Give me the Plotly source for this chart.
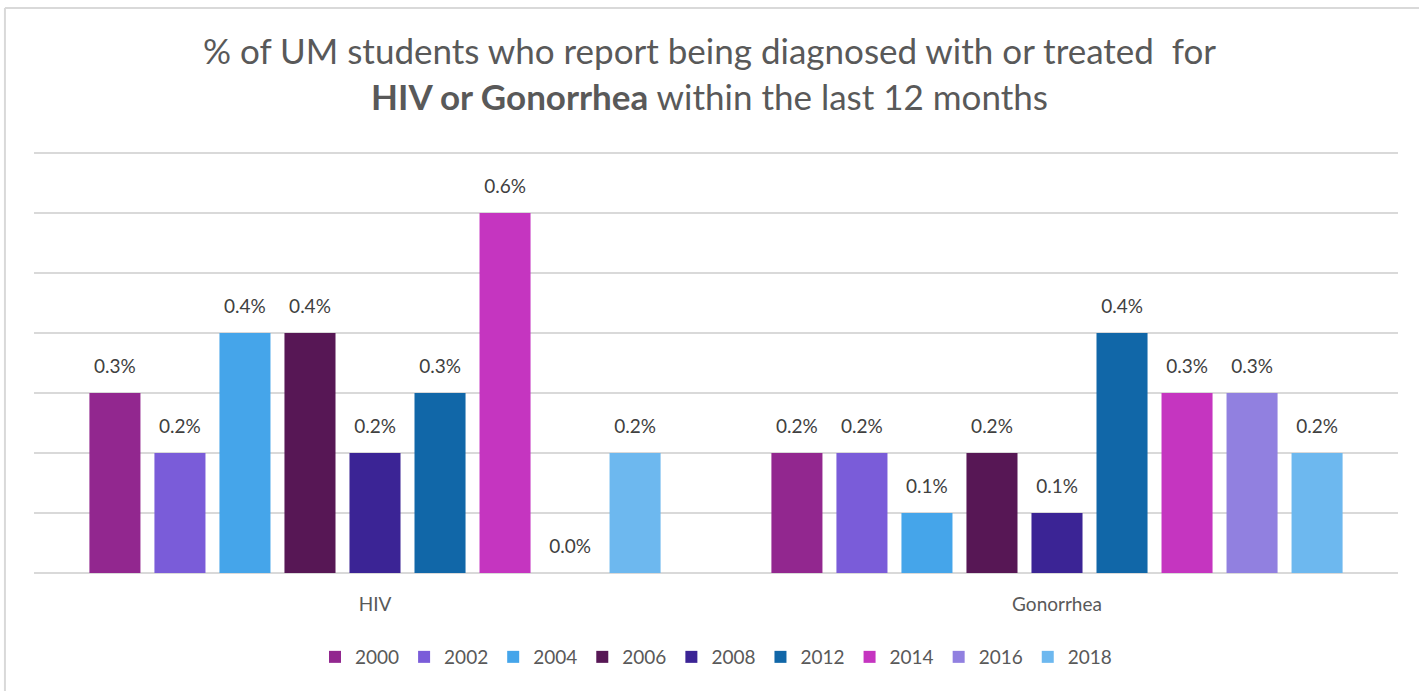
import plotly.graph_objects as go

categories = ["HIV", "Gonorrhea"]
years = ["2000", "2002", "2004", "2006", "2008", "2012", "2014", "2016", "2018"]
hiv = [0.3, 0.2, 0.4, 0.4, 0.2, 0.3, 0.6, 0.0, 0.2]
gonorrhea = [0.2, 0.2, 0.1, 0.2, 0.1, 0.4, 0.3, 0.3, 0.2]
colors = ["#92278F", "#7A5CD9", "#45A5EA", "#571755", "#3B2495",
          "#1167A8", "#C535C0", "#9180E0", "#6DB8EF"]

FONT = "Lato"
YMAX = 0.705
LABEL_LIFT = 0.022  # lift of the value labels above the bar tops (axis units)

fig = go.Figure()
for i, y in enumerate(years):
    vals = [hiv[i], gonorrhea[i]]
    fig.add_trace(go.Bar(
        name=y, x=categories, y=vals,
        marker=dict(color=colors[i], line=dict(width=0)),
        hoverinfo="name+y",
    ))
# value labels: transparent copies on an overlaying axis shifted slightly
for i, y in enumerate(years):
    vals = [hiv[i], gonorrhea[i]]
    fig.add_trace(go.Bar(
        name=y, x=categories, y=vals, yaxis="y2",
        marker=dict(color="rgba(0,0,0,0)", line=dict(width=0)),
        text=[f"{v:.1f}%" for v in vals],
        textposition="outside",
        textfont=dict(family=FONT, size=19, color="#404040"),
        cliponaxis=False, showlegend=False, hoverinfo="skip",
    ))

fig.update_layout(
    width=1419, height=691,
    margin=dict(l=34, r=21, t=150, b=118, autoexpand=False),
    paper_bgcolor="white", plot_bgcolor="white",
    barmode="group", bargap=0.142, bargroupgap=0.215,
    title=dict(
        text="% of UM students who report being diagnosed with or treated  for<br><b>HIV or Gonorrhea</b> within the last 12 months",
        x=0.5, xanchor="center", y=0.907, yanchor="middle",
        font=dict(family=FONT, size=35, color="#595959"),
    ),
    legend=dict(
        orientation="h", x=0.5, xanchor="center", y=-0.1986, yanchor="middle",
        font=dict(family=FONT, size=19, color="#595959"),
        itemwidth=30, tracegroupgap=0,
    ),
    showlegend=True,
    yaxis=dict(range=[0, YMAX], dtick=0.1, showticklabels=False, showgrid=True,
               gridcolor="#D9D9D9", gridwidth=2, zeroline=True, zerolinecolor="#D9D9D9",
               zerolinewidth=2, showline=False),
    yaxis2=dict(overlaying="y", range=[-LABEL_LIFT, YMAX - LABEL_LIFT], visible=False,
                showgrid=False, zeroline=False),
    xaxis=dict(showline=False, ticks="", ticklabelstandoff=18,
               tickfont=dict(family=FONT, size=19, color="#595959")),
)

fig.add_shape(type="line", xref="paper", yref="paper", x0=-0.0213, x1=1.1, y0=1.3357, y1=1.3357,
              line=dict(color="#D9D9D9", width=2))
fig.add_shape(type="line", xref="paper", yref="paper", x0=-0.0213, x1=-0.0213, y0=1.3357, y1=-0.4,
              line=dict(color="#D9D9D9", width=2))

fig.write_html("out.html", config={"displayModeBar": False},
               post_script="document.body.style.margin='0';")
